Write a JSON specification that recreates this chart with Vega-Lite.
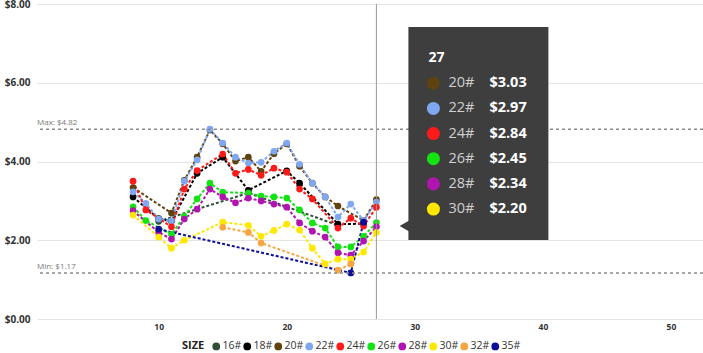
{
  "$schema": "https://vega.github.io/schema/vega-lite/v6.json",
  "width": 666,
  "height": 315,
  "autosize": "none",
  "padding": {"left": 37, "top": 4, "right": 0, "bottom": 34},
  "background": "white",
  "config": {
    "font": "Open Sans",
    "view": {"stroke": null}
  },
  "datasets": {
    "prices": [
      {"size": "16#", "x": 10, "price": 2.48}, {"size": "16#", "x": 17, "price": 3.2}, {"size": "16#", "x": 24, "price": 2.38},
      {"size": "18#", "x": 8, "price": 3.1}, {"size": "18#", "x": 10, "price": 2.55}, {"size": "18#", "x": 11, "price": 2.48}, {"size": "18#", "x": 13, "price": 3.7}, {"size": "18#", "x": 15, "price": 4.11}, {"size": "18#", "x": 17, "price": 3.27}, {"size": "18#", "x": 20, "price": 3.76}, {"size": "18#", "x": 21, "price": 3.45}, {"size": "18#", "x": 24, "price": 2.41}, {"size": "18#", "x": 26, "price": 2.42},
      {"size": "20#", "x": 8, "price": 3.34}, {"size": "20#", "x": 11, "price": 2.69}, {"size": "20#", "x": 12, "price": 3.52}, {"size": "20#", "x": 13, "price": 4.11}, {"size": "20#", "x": 14, "price": 4.8}, {"size": "20#", "x": 15, "price": 4.45}, {"size": "20#", "x": 16, "price": 4.01}, {"size": "20#", "x": 17, "price": 4.11}, {"size": "20#", "x": 18, "price": 3.75}, {"size": "20#", "x": 19, "price": 4.2}, {"size": "20#", "x": 20, "price": 4.45}, {"size": "20#", "x": 21, "price": 3.88}, {"size": "20#", "x": 22, "price": 3.45}, {"size": "20#", "x": 23, "price": 3.1}, {"size": "20#", "x": 24, "price": 2.87}, {"size": "20#", "x": 26, "price": 2.5}, {"size": "20#", "x": 27, "price": 3.03},
      {"size": "22#", "x": 8, "price": 3.23}, {"size": "22#", "x": 9, "price": 2.94}, {"size": "22#", "x": 10, "price": 2.54}, {"size": "22#", "x": 11, "price": 2.49}, {"size": "22#", "x": 12, "price": 3.5}, {"size": "22#", "x": 13, "price": 4.04}, {"size": "22#", "x": 14, "price": 4.82}, {"size": "22#", "x": 15, "price": 4.47}, {"size": "22#", "x": 16, "price": 4.11}, {"size": "22#", "x": 17, "price": 3.96}, {"size": "22#", "x": 18, "price": 3.98}, {"size": "22#", "x": 19, "price": 4.26}, {"size": "22#", "x": 20, "price": 4.47}, {"size": "22#", "x": 21, "price": 3.93}, {"size": "22#", "x": 22, "price": 3.45}, {"size": "22#", "x": 23, "price": 3.1}, {"size": "22#", "x": 24, "price": 2.59}, {"size": "22#", "x": 25, "price": 2.92}, {"size": "22#", "x": 26, "price": 2.5}, {"size": "22#", "x": 27, "price": 2.97},
      {"size": "24#", "x": 8, "price": 3.5}, {"size": "24#", "x": 9, "price": 2.77}, {"size": "24#", "x": 11, "price": 2.34}, {"size": "24#", "x": 12, "price": 3.3}, {"size": "24#", "x": 13, "price": 3.77}, {"size": "24#", "x": 15, "price": 4.19}, {"size": "24#", "x": 16, "price": 3.7}, {"size": "24#", "x": 17, "price": 3.8}, {"size": "24#", "x": 18, "price": 3.65}, {"size": "24#", "x": 19, "price": 3.83}, {"size": "24#", "x": 20, "price": 3.73}, {"size": "24#", "x": 21, "price": 3.3}, {"size": "24#", "x": 22, "price": 3.05}, {"size": "24#", "x": 24, "price": 2.31}, {"size": "24#", "x": 25, "price": 2.56}, {"size": "24#", "x": 26, "price": 2.36}, {"size": "24#", "x": 27, "price": 2.84},
      {"size": "26#", "x": 8, "price": 2.85}, {"size": "26#", "x": 9, "price": 2.5}, {"size": "26#", "x": 11, "price": 2.15}, {"size": "26#", "x": 12, "price": 2.61}, {"size": "26#", "x": 13, "price": 3.05}, {"size": "26#", "x": 14, "price": 3.45}, {"size": "26#", "x": 15, "price": 3.22}, {"size": "26#", "x": 17, "price": 3.2}, {"size": "26#", "x": 18, "price": 3.12}, {"size": "26#", "x": 19, "price": 3.1}, {"size": "26#", "x": 20, "price": 3.07}, {"size": "26#", "x": 21, "price": 2.77}, {"size": "26#", "x": 22, "price": 2.44}, {"size": "26#", "x": 23, "price": 2.31}, {"size": "26#", "x": 24, "price": 1.83}, {"size": "26#", "x": 25, "price": 1.83}, {"size": "26#", "x": 26, "price": 2.1}, {"size": "26#", "x": 27, "price": 2.45},
      {"size": "28#", "x": 8, "price": 2.75}, {"size": "28#", "x": 10, "price": 2.2}, {"size": "28#", "x": 11, "price": 2.03}, {"size": "28#", "x": 12, "price": 2.54}, {"size": "28#", "x": 13, "price": 2.79}, {"size": "28#", "x": 14, "price": 3.3}, {"size": "28#", "x": 15, "price": 3.1}, {"size": "28#", "x": 16, "price": 2.95}, {"size": "28#", "x": 17, "price": 3.07}, {"size": "28#", "x": 18, "price": 3.0}, {"size": "28#", "x": 19, "price": 2.92}, {"size": "28#", "x": 20, "price": 2.84}, {"size": "28#", "x": 21, "price": 2.44}, {"size": "28#", "x": 22, "price": 2.23}, {"size": "28#", "x": 23, "price": 2.08}, {"size": "28#", "x": 24, "price": 1.68}, {"size": "28#", "x": 25, "price": 1.62}, {"size": "28#", "x": 26, "price": 1.98}, {"size": "28#", "x": 27, "price": 2.34},
      {"size": "30#", "x": 8, "price": 2.64}, {"size": "30#", "x": 10, "price": 2.08}, {"size": "30#", "x": 11, "price": 1.8}, {"size": "30#", "x": 12, "price": 2.0}, {"size": "30#", "x": 15, "price": 2.46}, {"size": "30#", "x": 17, "price": 2.38}, {"size": "30#", "x": 18, "price": 2.1}, {"size": "30#", "x": 19, "price": 2.25}, {"size": "30#", "x": 20, "price": 2.41}, {"size": "30#", "x": 21, "price": 2.26}, {"size": "30#", "x": 22, "price": 1.8}, {"size": "30#", "x": 23, "price": 1.4}, {"size": "30#", "x": 24, "price": 1.52}, {"size": "30#", "x": 25, "price": 1.52}, {"size": "30#", "x": 26, "price": 1.7}, {"size": "30#", "x": 27, "price": 2.2},
      {"size": "32#", "x": 15, "price": 2.33}, {"size": "32#", "x": 17, "price": 2.2}, {"size": "32#", "x": 18, "price": 1.93}, {"size": "32#", "x": 24, "price": 1.24}, {"size": "32#", "x": 25, "price": 1.4},
      {"size": "35#", "x": 10, "price": 2.28}, {"size": "35#", "x": 25, "price": 1.17}, {"size": "35#", "x": 26, "price": 2.46}
    ]
  },
  "data": {"name": "prices"},
  "layer": [
    {
      "layer": [
        {
          "mark": {"type": "line", "strokeDash": [3, 2], "strokeWidth": 2},
          "encoding": {
            "x": {"field": "x", "type": "quantitative", "scale": {"domain": [0.5, 52.5], "nice": false, "zero": false},
              "axis": {"values": [10, 20, 30, 40, 50], "title": null, "grid": false, "domain": false, "ticks": false, "labelFontSize": 8.5, "labelFontWeight": "bold", "labelColor": "#333333", "labelPadding": 3}},
            "y": {"field": "price", "type": "quantitative", "scale": {"domain": [0, 8], "nice": false},
              "axis": {"values": [0, 2, 4, 6, 8], "format": "$.2f", "title": null, "domain": false, "ticks": false, "gridColor": "#E4E4E4", "gridWidth": 1, "labelFontSize": 10, "labelFontWeight": "bold", "labelColor": "#333333", "labelPadding": 7, "labelBound": false}},
            "color": {"field": "size", "type": "nominal",
              "scale": {"domain": ["16#", "18#", "20#", "22#", "24#", "26#", "28#", "30#", "32#", "35#"],
                "range": ["#2E4F36", "#000000", "#5E420F", "#80A8F0", "#FF1A1A", "#13E313", "#B015B0", "#FFE800", "#F7A543", "#0D0D99"]},
              "legend": {"orient": "none", "legendX": 145, "legendY": 337, "direction": "horizontal", "title": "SIZE", "titleOrient": "left", "titleFontWeight": "bold", "titleFontSize": 11, "titleColor": "#222222", "titlePadding": 6, "labelFontSize": 10.5, "labelColor": "#333333", "symbolType": "circle", "symbolSize": 60, "symbolStrokeWidth": 0, "labelOffset": 1, "columnPadding": 0}}
          }
        },
        {
          "mark": {"type": "circle", "size": 45, "opacity": 1},
          "encoding": {
            "x": {"field": "x", "type": "quantitative"},
            "y": {"field": "price", "type": "quantitative"},
            "color": {"field": "size", "type": "nominal"}
          }
        },
        {
          "transform": [
            {"aggregate": [{"op": "max", "field": "price", "as": "Max"}, {"op": "min", "field": "price", "as": "Min"}]},
            {"fold": ["Max", "Min"], "as": ["stat", "value"]}
          ],
          "mark": {"type": "rule", "strokeDash": [3, 3], "strokeWidth": 1.5, "color": "#8C8C8C"},
          "encoding": {"y": {"field": "value", "type": "quantitative"}}
        },
        {
          "transform": [
            {"aggregate": [{"op": "max", "field": "price", "as": "Max"}, {"op": "min", "field": "price", "as": "Min"}]},
            {"fold": ["Max", "Min"], "as": ["stat", "value"]},
            {"calculate": "datum.stat + ': $' + format(datum.value, '.2f')", "as": "label"}
          ],
          "mark": {"type": "text", "align": "left", "baseline": "bottom", "dy": -2, "fontSize": 8, "color": "#777777"},
          "encoding": {
            "x": {"datum": 0.5, "type": "quantitative"},
            "y": {"field": "value", "type": "quantitative"},
            "text": {"field": "label"}
          }
        },
        {
          "transform": [{"filter": "datum.x == 27"}, {"aggregate": [], "groupby": ["x"]}],
          "mark": {"type": "rule", "color": "#999999", "strokeWidth": 1},
          "encoding": {"x": {"field": "x", "type": "quantitative"}}
        }
      ]
    },
    {
      "transform": [
        {"filter": "datum.x == 27"},
        {"window": [{"op": "row_number", "as": "row"}], "sort": [{"field": "size", "order": "ascending"}]}
      ],
      "layer": [
        {
          "transform": [{"aggregate": [], "groupby": ["x"]}, {"calculate": "toString(datum.x)", "as": "key"}],
          "mark": {"type": "rect", "color": "#3E3E3E", "xOffset": 32, "x2Offset": 172, "yOffset": -31, "y2Offset": 182},
          "encoding": {
            "x": {"field": "x", "type": "quantitative"},
            "x2": {"field": "x"},
            "y": {"datum": 0, "type": "quantitative", "scale": {"domain": [-2.15, 10.37], "reverse": true, "nice": false, "zero": false}, "axis": null},
            "y2": {"datum": 0}
          }
        },
        {
          "transform": [{"aggregate": [], "groupby": ["x"]}],
          "mark": {"type": "point", "shape": "triangle-left", "filled": true, "color": "#3E3E3E", "opacity": 1, "size": 120, "xOffset": 28, "yOffset": 168},
          "encoding": {
            "x": {"field": "x", "type": "quantitative"},
            "y": {"datum": 0, "type": "quantitative"}
          }
        },
        {
          "transform": [{"aggregate": [], "groupby": ["x"]}, {"calculate": "toString(datum.x)", "as": "key"}],
          "mark": {"type": "text", "align": "left", "baseline": "middle", "dx": 52, "fontSize": 14, "fontWeight": "bold", "color": "#FFFFFF"},
          "encoding": {
            "x": {"field": "x", "type": "quantitative"},
            "y": {"datum": 0, "type": "quantitative"},
            "text": {"field": "key"}
          }
        },
        {
          "mark": {"type": "circle", "size": 170, "opacity": 1, "xOffset": 57},
          "encoding": {
            "x": {"field": "x", "type": "quantitative"},
            "y": {"field": "row", "type": "quantitative"},
            "color": {"field": "size", "type": "nominal"}
          }
        },
        {
          "mark": {"type": "text", "align": "left", "baseline": "middle", "dx": 72, "fontSize": 14.5, "color": "#D0D0D0"},
          "encoding": {
            "x": {"field": "x", "type": "quantitative"},
            "y": {"field": "row", "type": "quantitative"},
            "text": {"field": "size"}
          }
        },
        {
          "mark": {"type": "text", "align": "left", "baseline": "middle", "dx": 113, "fontSize": 14.5, "fontWeight": "bold", "color": "#FFFFFF"},
          "encoding": {
            "x": {"field": "x", "type": "quantitative"},
            "y": {"field": "row", "type": "quantitative"},
            "text": {"field": "price", "type": "quantitative", "format": "$.2f"}
          }
        }
      ]
    }
  ],
  "resolve": {"scale": {"y": "independent"}}
}
